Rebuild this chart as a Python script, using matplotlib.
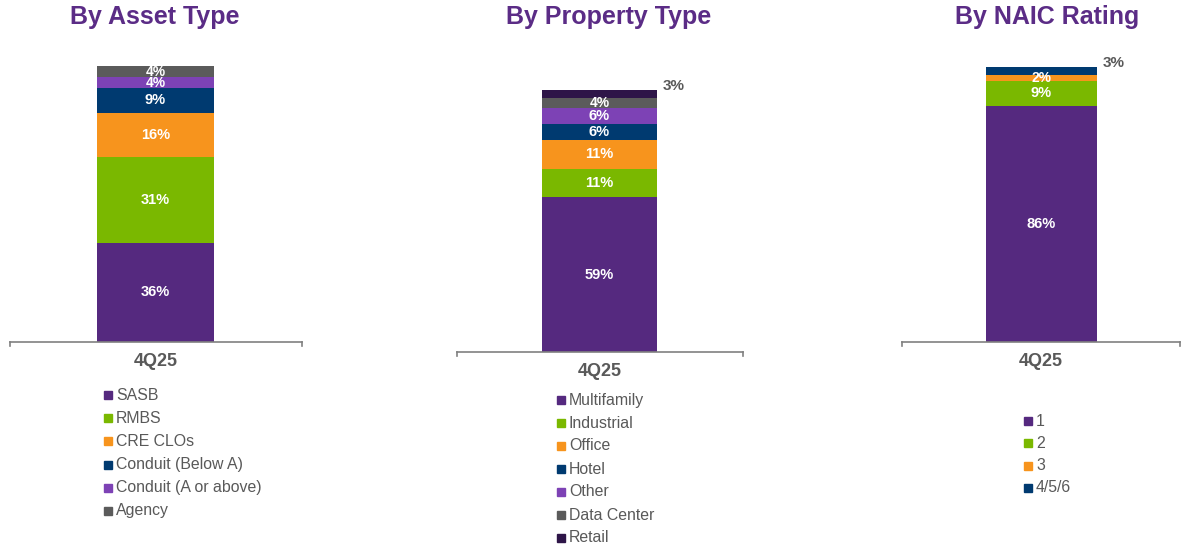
import matplotlib.pyplot as plt
import numpy as np

plt.rcParams['font.family'] = ['Liberation Sans', 'DejaVu Sans']

W, H = 1182, 550

# data
period = ['4Q25']

asset_labels = ['SASB', 'RMBS', 'CRE CLOs', 'Conduit (Below A)', 'Conduit (A or above)', 'Agency']
asset_values = [36, 31, 16, 9, 4, 4]

property_labels = ['Multifamily', 'Industrial', 'Office', 'Hotel', 'Other', 'Data Center', 'Retail']
property_values = [59, 11, 11, 6, 6, 4, 3]

naic_labels = ['1', '2', '3', '4/5/6']
naic_values = [86, 9, 2, 3]

PURPLE = '#55297f'
GREEN = '#7ab800'
ORANGE = '#f7941d'
NAVY = '#003a70'
LILAC = '#7d42b5'
GREY = '#5b5b5b'
DARK = '#2e1548'

asset_colors = [PURPLE, GREEN, ORANGE, NAVY, LILAC, GREY]
property_colors = [PURPLE, GREEN, ORANGE, NAVY, LILAC, GREY, DARK]
naic_colors = [PURPLE, GREEN, ORANGE, NAVY]

TITLE_C = '#5b2c86'
TEXT_C = '#595959'

fig = plt.figure(figsize=(W / 100, H / 100), dpi=100)


def px_axes(x0, x1, ybase, ytop):
    return fig.add_axes([x0 / W, 1 - ybase / H, (x1 - x0) / W, (ybase - ytop) / H])


def panel(x0, x1, ybase, ytop, bar_l, bar_r, title, title_x, labels, values, colors,
          outside, leg_x, leg_y, leg_dy):
    ax = px_axes(x0, x1, ybase, ytop)
    span = x1 - x0
    width = (bar_r - bar_l) / span
    center = ((bar_l + bar_r) / 2 - x0) / span - 0.5
    bottom = 0
    for i, (lab, v, c) in enumerate(zip(labels, values, colors)):
        ax.bar(center, v, width, bottom=bottom, color=c, label=lab)
        if i in outside:
            ax.text(center + width / 2 + 0.06, bottom + v + 1.5, f'{v}%', ha='center', va='center',
                    fontsize=11, fontweight='bold', color=TEXT_C)
        else:
            # thin segments get a slightly smaller label
            fs = 10.5 if v >= 5 else 10
            ax.text(center, bottom + v / 2, f'{v}%', ha='center', va='center',
                    fontsize=fs, fontweight='bold', color='white')
        bottom += v
    ax.set_xlim(-0.5, 0.5)
    ax.set_ylim(0, 100)
    for s in ['top', 'right', 'left']:
        ax.spines[s].set_visible(False)
    ax.spines['bottom'].set_color('#808080')
    ax.spines['bottom'].set_linewidth(1.2)
    ax.set_yticks([])
    ax.set_xticks([0])
    ax.set_xticklabels(period, fontsize=13, fontweight='bold', color=TEXT_C)
    ax.tick_params(axis='x', length=0, pad=8)
    for xe in [0, 1]:
        ax.plot([xe, xe], [0, -0.015], transform=ax.transAxes, color='#808080', lw=1.2, clip_on=False)
    fig.text(title_x / W, 1 - 17 / H, title, ha='center', va='center',
             fontsize=18, fontweight='bold', color=TITLE_C)
    for i, (lab, c) in enumerate(zip(labels, colors)):
        y = leg_y + i * leg_dy
        fig.patches.append(plt.Rectangle(((leg_x) / W, 1 - (y + 4) / H), 8 / W, 8 / H,
                                         transform=fig.transFigure, color=c))
        fig.text((leg_x + 12) / W, 1 - y / H, lab, ha='left', va='center', fontsize=11.4, color=TEXT_C)
    return ax


panel(10, 302, 342, 66, 97, 214, 'By Asset Type', 155, asset_labels, asset_values, asset_colors,
      outside=[], leg_x=104, leg_y=395, leg_dy=23.2)
panel(457, 743, 352, 90, 542, 657, 'By Property Type', 609, property_labels, property_values, property_colors,
      outside=[6], leg_x=557, leg_y=400, leg_dy=23.0)
panel(902, 1180, 342, 67, 986, 1097, 'By NAIC Rating', 1047, naic_labels, naic_values, naic_colors,
      outside=[3], leg_x=1024, leg_y=421, leg_dy=22.3)

fig.savefig('out.png', dpi=100)
